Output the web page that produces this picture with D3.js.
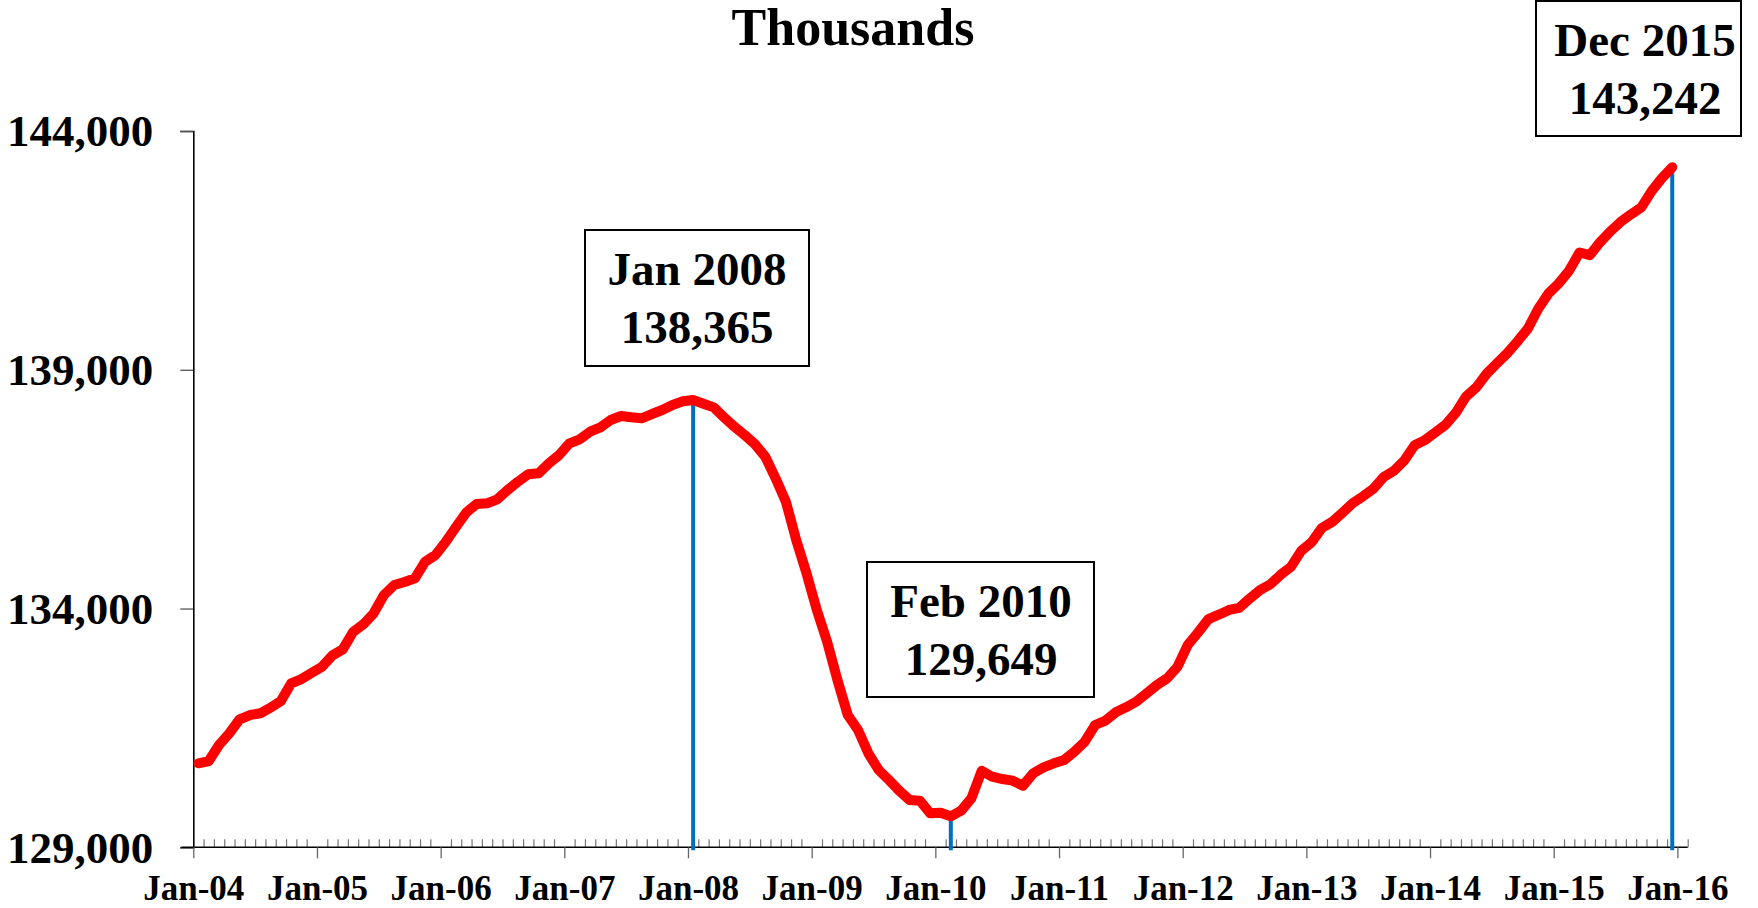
<!DOCTYPE html>
<html>
<head>
<meta charset="utf-8">
<script src="https://cdn.jsdelivr.net/npm/d3@7"></script>
<style>
  html, body { margin: 0; padding: 0; background: #ffffff; }
  svg { display: block; }
  text { font-family: "Liberation Serif", "Times New Roman", serif; font-weight: bold; fill: #000; }
</style>
</head>
<body>
<svg id="chart" width="1758" height="908"></svg>
<script>
// ---------- data ----------
const startYear = 2004;
const yearLabels = ["Jan-04","Jan-05","Jan-06","Jan-07","Jan-08","Jan-09","Jan-10","Jan-11","Jan-12","Jan-13","Jan-14","Jan-15","Jan-16"];
const yTicks = [129000, 134000, 139000, 144000];

const v2004 = [130759,130807,131142,131387,131680,131770,131806,131924,132063,132434,132524,132656];
const v2005 = [132782,133020,133146,133508,133669,133900,134283,134493,134555,134633,134981,135121];
const v2006 = [135399,135713,136015,136189,136203,136287,136482,136656,136811,136832,137041,137215];
const v2007 = [137460,137544,137703,137795,137948,138031,138004,137983,138073,138157,138262,138340];
const v2008 = [138365,138290,138213,138004,137808,137633,137439,137179,136727,136237,135435,134738];
const v2009 = [133969,133305,132503,131770,131456,130968,130619,130409,130185,129990,129976,129712];
const v2010 = [129725,129649,129766,130026,130604,130478,130430,130395,130290,130550,130675,130759];
const v2011 = [130828,131002,131211,131561,131651,131827,131932,132049,132225,132399,132539,132782];
const v2012 = [133240,133500,133778,133871,133971,134015,134208,134386,134507,134706,134872,135207];
const v2013 = [135385,135686,135814,136007,136208,136350,136507,136756,136886,137100,137420,137527];
const v2014 = [137686,137849,138098,138442,138635,138919,139135,139349,139598,139864,140278,140599];
const v2015 = [140812,141078,141455,141399,141671,141899,142098,142255,142400,142741,143013,143242];

const values = [].concat(v2004,v2005,v2006,v2007,v2008,v2009,v2010,v2011,v2012,v2013,v2014,v2015);
const nCategories = values.length + 1; // axis runs through Jan 2016

// annotations: month index and the two text lines
const annotations = [
  { idx: 48, line1: "Jan 2008", line2: "138,365" },
  { idx: 73, line1: "Feb 2010", line2: "129,649" },
  { idx: 143, line1: "Dec 2015", line2: "143,242" }
];

// ---------- layout ----------
const svg = d3.select("#chart");
const x0 = 193.3, x1 = 1687.7, yTop = 131, yBot = 847.3;

const x = d3.scaleLinear().domain([0, nCategories]).range([x0, x1]);
const y = d3.scaleLinear().domain([129000, 144000]).range([yBot, yTop]);

// title
svg.append("text").attr("x", 853).attr("y", 45).attr("text-anchor", "middle")
  .style("font-size", "52px").text("Thousands");

// y axis
const yAxis = d3.axisLeft(y).tickValues(yTicks).tickSize(13).tickPadding(27)
  .tickFormat(d3.format(","));
const gy = svg.append("g").attr("transform", `translate(${x0},0)`).call(yAxis);
gy.select(".domain").attr("stroke", "#000").attr("stroke-width", 1.6);
gy.selectAll(".tick line").attr("stroke", "#555").attr("stroke-width", 1.3);
gy.selectAll(".tick text").style("font-size", "45px")
  .style("font-family", "'Liberation Serif', 'Times New Roman', serif").style("font-weight", "bold")
  .attr("dy", "0.33em");

// x axis: minor ticks (upward) at every month
const minorVals = d3.range(1, nCategories + 1).filter(d => d % 12 !== 0);
const xMinor = d3.axisTop(x).tickValues(minorVals).tickSize(8).tickFormat("");
const gxm = svg.append("g").attr("transform", `translate(0,${yBot})`).call(xMinor);
gxm.select(".domain").remove();
gxm.selectAll(".tick line").attr("stroke", "#777").attr("stroke-width", 1.2);

// x axis: major ticks (downward) at every January with labels
const majorVals = d3.range(0, nCategories, 12);
const xMajor = d3.axisBottom(x).tickValues(majorVals).tickSize(11).tickPadding(17)
  .tickFormat((d, i) => yearLabels[i]);
const gx = svg.append("g").attr("transform", `translate(0,${yBot})`).call(xMajor);
gx.select(".domain").attr("stroke", "#000").attr("stroke-width", 1.6)
  .attr("d", `M${x0 - 12},0H${x1}`);
gx.selectAll(".tick line").attr("stroke", "#666").attr("stroke-width", 1.3);
gx.selectAll(".tick text").style("font-size", "35px")
  .style("font-family", "'Liberation Serif', 'Times New Roman', serif").style("font-weight", "bold")
  .attr("dy", "0.71em");

// blue drop lines
annotations.forEach(a => {
  svg.append("line")
    .attr("x1", x(a.idx + 0.5)).attr("x2", x(a.idx + 0.5))
    .attr("y1", y(values[a.idx])).attr("y2", yBot + 3)
    .attr("stroke", "#0070C0").attr("stroke-width", 4);
});

// red line
const line = d3.line().x((d, i) => x(i + 0.5)).y(d => y(d));
svg.append("path").datum(values).attr("d", line)
  .attr("fill", "none").attr("stroke", "#FF0000").attr("stroke-width", 10)
  .attr("stroke-linejoin", "round").attr("stroke-linecap", "round");

// annotation boxes
const boxes = [
  { x: 585, y: 230, w: 224, h: 136, tx: 697, b1: 285, b2: 343 },
  { x: 867, y: 562, w: 227, h: 135, tx: 981, b1: 617, b2: 675 },
  { x: 1536, y: 1, w: 205, h: 135, tx: 1645, b1: 56, b2: 114 }
];
annotations.forEach((a, k) => {
  const b = boxes[k];
  svg.append("rect").attr("x", b.x).attr("y", b.y).attr("width", b.w).attr("height", b.h)
    .attr("fill", "#fff").attr("stroke", "#000").attr("stroke-width", 2);
  svg.append("text").attr("x", b.tx).attr("y", b.b1).attr("text-anchor", "middle")
    .style("font-size", "47px").text(a.line1);
  svg.append("text").attr("x", b.tx).attr("y", b.b2).attr("text-anchor", "middle")
    .style("font-size", "47px").text(a.line2);
});
</script>
</body>
</html>
